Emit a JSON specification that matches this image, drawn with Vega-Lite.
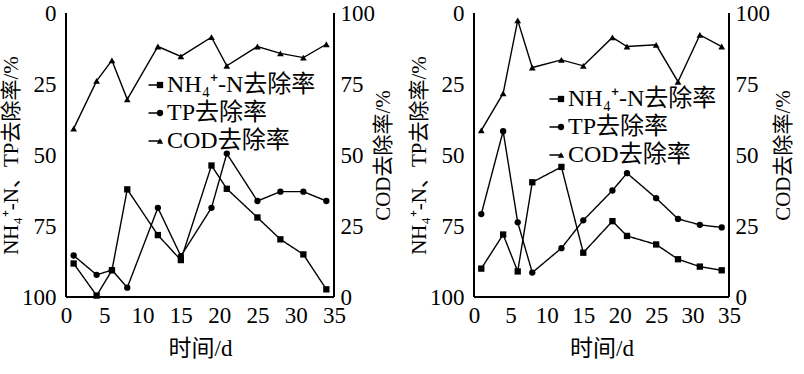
{
  "$schema": "https://vega.github.io/schema/vega-lite/v6.json",
  "padding": {"left": 0, "top": 2, "right": 0, "bottom": 0},
  "spacing": 14,
  "datasets": {
    "a": [
      {"d": 1, "s": "NH₄⁺-N去除率", "v": 88.2}, {"d": 4, "s": "NH₄⁺-N去除率", "v": 99.5}, {"d": 6, "s": "NH₄⁺-N去除率", "v": 90.6}, {"d": 8, "s": "NH₄⁺-N去除率", "v": 62.1}, {"d": 12, "s": "NH₄⁺-N去除率", "v": 78.2}, {"d": 15, "s": "NH₄⁺-N去除率", "v": 87}, {"d": 19, "s": "NH₄⁺-N去除率", "v": 53.7}, {"d": 21, "s": "NH₄⁺-N去除率", "v": 61.9}, {"d": 25, "s": "NH₄⁺-N去除率", "v": 72}, {"d": 28, "s": "NH₄⁺-N去除率", "v": 79.7}, {"d": 31, "s": "NH₄⁺-N去除率", "v": 85}, {"d": 34, "s": "NH₄⁺-N去除率", "v": 97.3},
      {"d": 1, "s": "TP去除率", "v": 85.4}, {"d": 4, "s": "TP去除率", "v": 92.2}, {"d": 6, "s": "TP去除率", "v": 90.5}, {"d": 8, "s": "TP去除率", "v": 96.7}, {"d": 12, "s": "TP去除率", "v": 68.6}, {"d": 15, "s": "TP去除率", "v": 85.6}, {"d": 19, "s": "TP去除率", "v": 68.6}, {"d": 21, "s": "TP去除率", "v": 49.5}, {"d": 25, "s": "TP去除率", "v": 66.2}, {"d": 28, "s": "TP去除率", "v": 62.9}, {"d": 31, "s": "TP去除率", "v": 62.9}, {"d": 34, "s": "TP去除率", "v": 66.2},
      {"d": 1, "s": "COD去除率", "v": 59.3}, {"d": 4, "s": "COD去除率", "v": 76.1}, {"d": 6, "s": "COD去除率", "v": 83.3}, {"d": 8, "s": "COD去除率", "v": 69.6}, {"d": 12, "s": "COD去除率", "v": 88.2}, {"d": 15, "s": "COD去除率", "v": 84.7}, {"d": 19, "s": "COD去除率", "v": 91.5}, {"d": 21, "s": "COD去除率", "v": 81.4}, {"d": 25, "s": "COD去除率", "v": 88.2}, {"d": 28, "s": "COD去除率", "v": 85.8}, {"d": 31, "s": "COD去除率", "v": 84.3}, {"d": 34, "s": "COD去除率", "v": 89}
    ],
    "b": [
      {"d": 1, "s": "NH₄⁺-N去除率", "v": 90}, {"d": 4, "s": "NH₄⁺-N去除率", "v": 78}, {"d": 6, "s": "NH₄⁺-N去除率", "v": 91}, {"d": 8, "s": "NH₄⁺-N去除率", "v": 59.6}, {"d": 12, "s": "NH₄⁺-N去除率", "v": 54.2}, {"d": 15, "s": "NH₄⁺-N去除率", "v": 84.4}, {"d": 19, "s": "NH₄⁺-N去除率", "v": 73.3}, {"d": 21, "s": "NH₄⁺-N去除率", "v": 78.5}, {"d": 25, "s": "NH₄⁺-N去除率", "v": 81.5}, {"d": 28, "s": "NH₄⁺-N去除率", "v": 86.7}, {"d": 31, "s": "NH₄⁺-N去除率", "v": 89.3}, {"d": 34, "s": "NH₄⁺-N去除率", "v": 90.6},
      {"d": 1, "s": "TP去除率", "v": 70.8}, {"d": 4, "s": "TP去除率", "v": 41.6}, {"d": 6, "s": "TP去除率", "v": 73.7}, {"d": 8, "s": "TP去除率", "v": 91.4}, {"d": 12, "s": "TP去除率", "v": 82.8}, {"d": 15, "s": "TP去除率", "v": 73}, {"d": 19, "s": "TP去除率", "v": 62.5}, {"d": 21, "s": "TP去除率", "v": 56.4}, {"d": 25, "s": "TP去除率", "v": 65.2}, {"d": 28, "s": "TP去除率", "v": 72.5}, {"d": 31, "s": "TP去除率", "v": 74.6}, {"d": 34, "s": "TP去除率", "v": 75.5},
      {"d": 1, "s": "COD去除率", "v": 58.7}, {"d": 4, "s": "COD去除率", "v": 71.7}, {"d": 6, "s": "COD去除率", "v": 97.4}, {"d": 8, "s": "COD去除率", "v": 80.8}, {"d": 12, "s": "COD去除率", "v": 83.5}, {"d": 15, "s": "COD去除率", "v": 81.4}, {"d": 19, "s": "COD去除率", "v": 91.4}, {"d": 21, "s": "COD去除率", "v": 88.2}, {"d": 25, "s": "COD去除率", "v": 88.8}, {"d": 28, "s": "COD去除率", "v": 75.8}, {"d": 31, "s": "COD去除率", "v": 92.3}, {"d": 34, "s": "COD去除率", "v": 88.2}
    ]
  },
  "config": {
    "view": {"stroke": null},
    "font": "Liberation Serif, Noto Sans CJK SC",
    "axis": {
      "grid": false, "domain": false, "ticks": false,
      "labelColor": "black", "labelFont": "Liberation Serif", "labelFontSize": 23, "labelFlush": false,
      "titleFont": "Liberation Serif, Noto Sans CJK SC", "titleFontSize": 21, "titleFontWeight": "normal", "titleColor": "black"
    },
    "legend": {
      "labelFont": "Liberation Serif, Noto Sans CJK SC", "labelFontSize": 24, "labelColor": "black",
      "rowPadding": 4, "padding": 0, "labelOffset": -5, "title": null
    }
  },
  "resolve": {"scale": {"shape": "independent", "strokeDash": "independent"}},
  "hconcat": [
    {
      "width": 268, "height": 284,
      "data": {"name": "a"},
      "layer": [
        {
          "transform": [{"filter": "datum.s !== 'COD去除率'"}],
          "encoding": {
            "x": {"field": "d", "type": "quantitative", "scale": {"domain": [0, 35], "nice": false}, "axis": {"values": [0, 5, 10, 15, 20, 25, 30, 35], "title": "时间/d", "titleFontSize": 23, "labelPadding": 7, "titlePadding": 10}},
            "y": {"field": "v", "type": "quantitative", "scale": {"domain": [0, 100], "reverse": true, "nice": false}, "axis": {"orient": "left", "values": [0, 25, 50, 75, 100], "title": "NH₄⁺-N、TP去除率/%", "labelPadding": 10, "titlePadding": 0}}
          },
          "layer": [
            {"mark": {"type": "rule", "color": "black", "strokeWidth": 1.5}, "encoding": {"x": {"datum": 0}, "y2": {"datum": 0}}},
            {"mark": {"type": "rule", "color": "black", "strokeWidth": 1.5}, "encoding": {"x": {"datum": 0}, "y2": {"datum": 100}}},
            {"mark": {"type": "rule", "color": "black", "strokeWidth": 1.5}, "encoding": {"x": {"datum": 35}, "y2": {"datum": 0}}},
            {"mark": {"type": "rule", "color": "black", "strokeWidth": 1.5}, "encoding": {"x": {"datum": 35}, "y2": {"datum": 100}}},
            {"mark": {"type": "rule", "color": "black", "strokeWidth": 1.5}, "encoding": {"x2": {"datum": 0}, "y": {"datum": 100}}},
            {"mark": {"type": "rule", "color": "black", "strokeWidth": 1.5}, "encoding": {"x2": {"datum": 35}, "y": {"datum": 100}}},
            {"mark": {"type": "line", "color": "black", "strokeWidth": 1.4},
             "encoding": {"strokeDash": {"field": "s", "type": "nominal",
               "scale": {"domain": ["COD去除率", "TP去除率", "NH₄⁺-N去除率"], "range": [[1, 0], [1, 0], [1, 0]]},
               "legend": {"orient": "none", "legendX": 77, "legendY": 60, "symbolSize": 169, "symbolStrokeWidth": 1.4, "symbolStrokeColor": "black", "labelExpr": "''"}}}},
            {"mark": {"type": "point", "filled": true, "color": "black", "size": 40, "opacity": 1},
             "encoding": {"shape": {"field": "s", "type": "nominal",
               "scale": {"domain": ["NH₄⁺-N去除率", "TP去除率", "COD去除率"], "range": ["square", "circle", "triangle-up"]},
               "legend": {"orient": "none", "legendX": 82, "legendY": 60, "symbolSize": 40}}}}
          ]
        },
        {
          "transform": [{"filter": "datum.s === 'COD去除率'"}],
          "encoding": {
            "x": {"field": "d", "type": "quantitative", "scale": {"domain": [0, 35], "nice": false}, "axis": {"values": [0, 5, 10, 15, 20, 25, 30, 35], "title": "时间/d", "titleFontSize": 23, "labelPadding": 7, "titlePadding": 10}},
            "y": {"field": "v", "type": "quantitative", "scale": {"domain": [0, 100], "nice": false}, "axis": {"orient": "right", "values": [0, 25, 50, 75, 100], "title": "COD去除率/%", "titleAngle": 270, "labelPadding": 6, "titlePadding": 19}}
          },
          "layer": [
            {"mark": {"type": "line", "color": "black", "strokeWidth": 1.4}, "encoding": {}},
            {"mark": {"type": "point", "filled": true, "color": "black", "size": 45, "opacity": 1},
             "encoding": {"shape": {"field": "s", "type": "nominal"}}}
          ]
        }
      ],
      "resolve": {"scale": {"y": "independent"}}
    },
    {
      "width": 255, "height": 284,
      "data": {"name": "b"},
      "layer": [
        {
          "transform": [{"filter": "datum.s !== 'COD去除率'"}],
          "encoding": {
            "x": {"field": "d", "type": "quantitative", "scale": {"domain": [0, 35], "nice": false}, "axis": {"values": [0, 5, 10, 15, 20, 25, 30, 35], "title": "时间/d", "titleFontSize": 23, "labelPadding": 7, "titlePadding": 10}},
            "y": {"field": "v", "type": "quantitative", "scale": {"domain": [0, 100], "reverse": true, "nice": false}, "axis": {"orient": "left", "values": [0, 25, 50, 75, 100], "title": "NH₄⁺-N、TP去除率/%", "labelPadding": 10, "titlePadding": 0}}
          },
          "layer": [
            {"mark": {"type": "rule", "color": "black", "strokeWidth": 1.5}, "encoding": {"x": {"datum": 0}, "y2": {"datum": 0}}},
            {"mark": {"type": "rule", "color": "black", "strokeWidth": 1.5}, "encoding": {"x": {"datum": 0}, "y2": {"datum": 100}}},
            {"mark": {"type": "rule", "color": "black", "strokeWidth": 1.5}, "encoding": {"x": {"datum": 35}, "y2": {"datum": 0}}},
            {"mark": {"type": "rule", "color": "black", "strokeWidth": 1.5}, "encoding": {"x": {"datum": 35}, "y2": {"datum": 100}}},
            {"mark": {"type": "rule", "color": "black", "strokeWidth": 1.5}, "encoding": {"x2": {"datum": 0}, "y": {"datum": 100}}},
            {"mark": {"type": "rule", "color": "black", "strokeWidth": 1.5}, "encoding": {"x2": {"datum": 35}, "y": {"datum": 100}}},
            {"mark": {"type": "line", "color": "black", "strokeWidth": 1.4},
             "encoding": {"strokeDash": {"field": "s", "type": "nominal",
               "scale": {"domain": ["COD去除率", "TP去除率", "NH₄⁺-N去除率"], "range": [[1, 0], [1, 0], [1, 0]]},
               "legend": {"orient": "none", "legendX": 70, "legendY": 74, "symbolSize": 169, "symbolStrokeWidth": 1.4, "symbolStrokeColor": "black", "labelExpr": "''"}}}},
            {"mark": {"type": "point", "filled": true, "color": "black", "size": 40, "opacity": 1},
             "encoding": {"shape": {"field": "s", "type": "nominal",
               "scale": {"domain": ["NH₄⁺-N去除率", "TP去除率", "COD去除率"], "range": ["square", "circle", "triangle-up"]},
               "legend": {"orient": "none", "legendX": 75, "legendY": 74, "symbolSize": 40}}}}
          ]
        },
        {
          "transform": [{"filter": "datum.s === 'COD去除率'"}],
          "encoding": {
            "x": {"field": "d", "type": "quantitative", "scale": {"domain": [0, 35], "nice": false}, "axis": {"values": [0, 5, 10, 15, 20, 25, 30, 35], "title": "时间/d", "titleFontSize": 23, "labelPadding": 7, "titlePadding": 10}},
            "y": {"field": "v", "type": "quantitative", "scale": {"domain": [0, 100], "nice": false}, "axis": {"orient": "right", "values": [0, 25, 50, 75, 100], "title": "COD去除率/%", "titleAngle": 270, "labelPadding": 6, "titlePadding": 24}}
          },
          "layer": [
            {"mark": {"type": "line", "color": "black", "strokeWidth": 1.4}, "encoding": {}},
            {"mark": {"type": "point", "filled": true, "color": "black", "size": 45, "opacity": 1},
             "encoding": {"shape": {"field": "s", "type": "nominal"}}}
          ]
        }
      ],
      "resolve": {"scale": {"y": "independent"}}
    }
  ]
}
